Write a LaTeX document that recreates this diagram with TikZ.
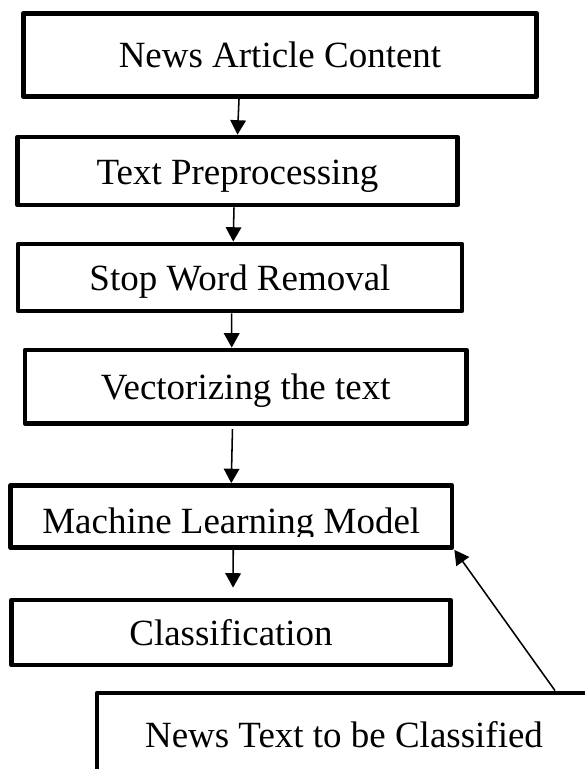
\documentclass[tikz,border=0pt]{standalone}
\usepackage{fontspec}
\setmainfont{Liberation Serif}
\usepackage{tikz}
\usetikzlibrary{arrows.meta}
\pgfdeclarelayer{edgelayer}
\pgfdeclarelayer{nodelayer}
\pgfsetlayers{edgelayer,nodelayer,main}
\tikzstyle{edge}=[draw=black, line width=1.1pt, -{Triangle[length=0.36cm, width=0.39cm]}]
\tikzstyle{box}=[rectangle, fill=white, draw=black, line width=3.4pt, line join=round, inner sep=0pt, text height=0.65cm, text depth=0pt, font=\fontsize{26.3pt}{31pt}\selectfont]
\tikzstyle{plain}=[inner sep=0pt, text height=0.65cm, text depth=0pt, font=\fontsize{26.3pt}{31pt}\selectfont]

\begin{document}
\begin{tikzpicture}
	\clip (0, 0) rectangle (14.6, -19.225);
	\begin{pgfonlayer}{nodelayer}
		\node [style=box, minimum width=12.835cm, minimum height=2.085cm] (0) at (7.0, -1.375) {News Article Content};
		\node [style=box, minimum width=11.0cm, minimum height=1.7cm] (1) at (5.9375, -4.275) {Text Preprocessing};
		\node [style=box, minimum width=11.1cm, minimum height=1.675cm] (2) at (6.0, -6.9375) {Stop Word Removal};
		\node [style=box, minimum width=11.0375cm, minimum height=1.8375cm] (3) at (6.1438, -9.6688) {Vectorizing the text};
		\node [style=box, minimum width=11.0375cm, minimum height=1.55cm] (4) at (5.7813, -12.9125) {};
		\begin{scope}
			\clip (0, -12.0) rectangle (14.6, -13.4);
			\node [style=plain] (5) at (5.7813, -13.0) {Machine Learning Model};
		\end{scope}
		\node [style=box, minimum width=10.975cm, minimum height=1.625cm] (6) at (5.775, -15.8125) {Classification};
		\node [style=box, minimum width=12.35cm, minimum height=2.05cm] (7) at (8.6, -18.35) {News Text to be Classified};
	\end{pgfonlayer}
	\begin{pgfonlayer}{edgelayer}
		\draw [style=edge] ([xshift=-1.025cm]0.south) to (1.north);
		\draw [style=edge] ([xshift=-0.0875cm]1.south) to ([xshift=-0.17cm]2.north);
		\draw [style=edge] ([xshift=-0.21cm]2.south) to ([xshift=-0.35cm]3.north);
		\draw [style=edge, shorten <=0.08cm] ([xshift=-0.33cm]3.south) to (4.north);
		\draw [style=edge, shorten >=0.25cm] ([xshift=0.05cm]4.south) to ([xshift=0.05cm]6.north);
		\draw [style=edge] ([xshift=5.275cm]7.north) to (4.south east);
	\end{pgfonlayer}
\end{tikzpicture}
\end{document}
